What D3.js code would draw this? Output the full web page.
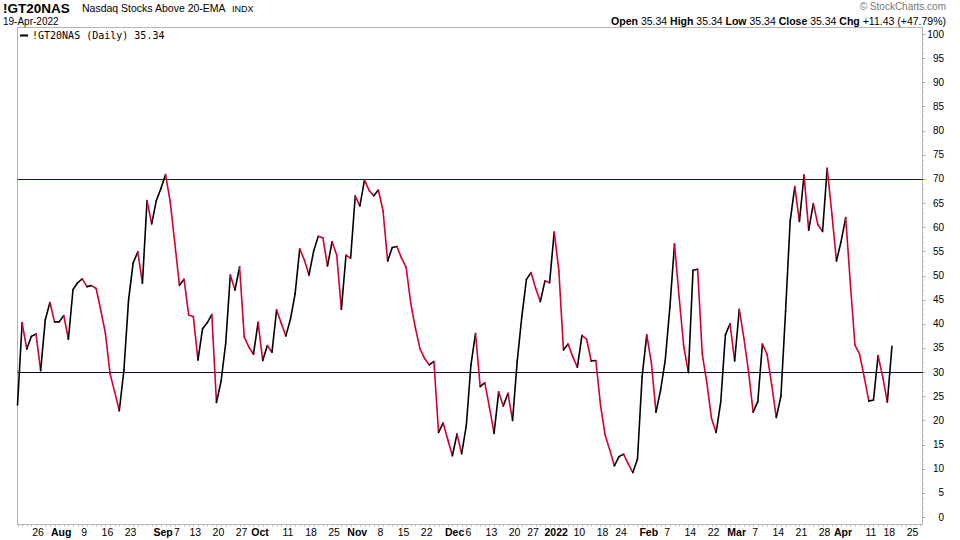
<!DOCTYPE html>
<html>
<head>
<meta charset="utf-8">
<script src="https://cdn.jsdelivr.net/npm/d3@7"></script>
<style>
  body { margin: 0; background: #fff; }
  text { font-family: "Liberation Sans", Arial, sans-serif; }
</style>
</head>
<body>
<svg id="chart" width="960" height="540"></svg>
<script>
// Trading days from 20-Jul-2021 to 19-Apr-2022 (US market holidays skipped)
const startDate = "2021-07-20";
const holidays = ["2021-09-06", "2021-11-25", "2021-12-24", "2022-01-17", "2022-02-21", "2022-04-15"];

// Daily values of !GT20NAS
const values = [
  23.2, 40.2, 34.8, 37.4, 37.9, 30.3, 40.8, 44.4, 40.4, 40.4,
  41.7, 36.8, 47.1, 48.5, 49.3, 47.7, 47.9, 47.3, 42.8, 38.0,
  29.7, 25.9, 22.0, 30.4, 44.9, 52.6, 54.9, 48.4, 65.5, 60.7,
  65.5, 68.0, 70.9, 65.3, 56.7, 48.0, 49.2, 41.8, 41.5, 32.5,
  39.0, 40.2, 41.9, 23.7, 28.1, 36.0, 50.1, 47.0, 51.8,
  37.3, 35.2, 33.7, 40.3, 32.4, 35.5, 34.1, 42.9, 40.1, 37.5,
  41.0, 46.2, 55.5, 53.2, 50.1, 55.0, 58.1, 57.8, 52.0, 57.0,
  54.2, 43.0, 54.2, 53.6, 66.5, 64.4, 69.8, 67.6, 66.5, 67.7,
  63.4, 53.0, 55.8, 56.0, 53.6, 51.7, 44.2, 39.1, 34.8, 32.8,
  31.5, 32.2, 17.5, 19.5, 16.0, 12.7, 17.2, 13.1, 18.9,
  31.5, 38.0, 27.0, 27.8, 22.7, 17.3, 25.9, 23.0, 25.6, 20.0,
  32.2, 41.5, 49.2, 50.6, 47.3, 44.6, 48.9, 48.5, 59.0, 51.1,
  34.6, 35.8, 33.2, 31.0, 37.6, 36.8, 32.3, 32.4, 23.2, 17.0,
  13.9, 10.6, 12.5, 13.0, 11.0, 9.2, 12.0, 29.1, 37.7, 31.9,
  21.7, 26.3, 32.5, 43.4, 56.5, 45.5, 35.3, 29.9, 51.1, 51.3,
  33.7, 27.7, 20.4, 17.5, 23.9, 37.7, 40.0, 32.3, 43.0, 37.0,
  30.1, 21.7, 23.9, 35.8, 33.7, 27.4, 20.6, 25.0, 42.5, 61.3,
  68.4, 61.2, 70.8, 59.4, 64.9, 60.5, 59.1, 72.2, 62.9, 53.0,
  57.0, 62.0, 48.4, 35.6, 33.7, 29.0, 24.0, 24.2, 33.4, 29.0,
  23.8, 35.34
];

// X axis labels: [date, text, bold]
const tickDates = [
  ["2021-07-26", "26", false], ["2021-08-02", "Aug", true], ["2021-08-09", "9", false],
  ["2021-08-16", "16", false], ["2021-08-23", "23", false], ["2021-09-01", "Sep", true],
  ["2021-09-07", "7", false], ["2021-09-13", "13", false], ["2021-09-20", "20", false],
  ["2021-09-27", "27", false], ["2021-10-01", "Oct", true], ["2021-10-11", "11", false],
  ["2021-10-18", "18", false], ["2021-10-25", "25", false], ["2021-11-01", "Nov", true],
  ["2021-11-08", "8", false], ["2021-11-15", "15", false], ["2021-11-22", "22", false],
  ["2021-12-01", "Dec", true], ["2021-12-06", "6", false], ["2021-12-13", "13", false],
  ["2021-12-20", "20", false], ["2021-12-27", "27", false], ["2022-01-03", "2022", true],
  ["2022-01-10", "10", false], ["2022-01-18", "18", false], ["2022-01-24", "24", false],
  ["2022-02-01", "Feb", true], ["2022-02-07", "7", false], ["2022-02-14", "14", false],
  ["2022-02-22", "22", false], ["2022-03-01", "Mar", true], ["2022-03-07", "7", false],
  ["2022-03-14", "14", false], ["2022-03-21", "21", false], ["2022-03-28", "28", false],
  ["2022-04-01", "Apr", true], ["2022-04-11", "11", false], ["2022-04-18", "18", false],
  ["2022-04-25", "25", false]
];
const yTicks = d3.range(0, 101, 5);
const refLines = [70, 30];

// build trading-day list (extended a week past the data for the axis)
const fmt = d3.utcFormat("%Y-%m-%d");
const days = [];
for (let d = new Date(startDate + "T00:00:00Z"); fmt(d) <= "2022-04-29"; d = d3.utcDay.offset(d, 1)) {
  const wd = d.getUTCDay();
  if (wd === 0 || wd === 6 || holidays.includes(fmt(d))) continue;
  days.push(fmt(d));
}
const idx = (s) => days.indexOf(s);

const svg = d3.select("#chart");
const plot = { left: 17.5, right: 922.5, top: 27.5, bottom: 524.5 };

const x = d3.scaleLinear().domain([0, 195.6]).range([plot.left, plot.right]);
const y = d3.scaleLinear().domain([0, 100]).range([517, 34]);
const crisp = (v) => Math.round(v) + 0.5;

// frame
svg.append("rect")
  .attr("x", plot.left).attr("y", plot.top)
  .attr("width", plot.right - plot.left).attr("height", plot.bottom - plot.top)
  .attr("fill", "none").attr("stroke", "#b4b4b4");

// header
svg.append("text").attr("x", 3).attr("y", 13)
  .attr("font-size", 13.5).attr("font-weight", "bold").text("!GT20NAS");
svg.append("text").attr("x", 82).attr("y", 12)
  .attr("font-size", 10.5).text("Nasdaq Stocks Above 20-EMA");
svg.append("text").attr("x", 232).attr("y", 12)
  .attr("font-size", 9).text("INDX");
svg.append("text").attr("x", 3).attr("y", 25)
  .attr("font-size", 10).text("19-Apr-2022");
svg.append("text").attr("x", 946).attr("y", 10).attr("text-anchor", "end")
  .attr("font-size", 10).attr("fill", "#777").text("© StockCharts.com");

const stats = svg.append("text").attr("x", 946).attr("y", 25)
  .attr("text-anchor", "end").attr("font-size", 10.5);
[["Open", "35.34"], ["High", "35.34"], ["Low", "35.34"], ["Close", "35.34"], ["Chg", "+11.43 (+47.79%)"]]
  .forEach(([k, v], i) => {
    stats.append("tspan").attr("font-weight", "bold").text((i ? " " : "") + k + " ");
    stats.append("tspan").text(v);
  });

// legend
svg.append("line").attr("x1", 20).attr("x2", 28).attr("y1", 35.5).attr("y2", 35.5)
  .attr("stroke", "#000").attr("stroke-width", 2);
svg.append("text").attr("x", 32).attr("y", 39)
  .attr("font-size", 10)
  .attr("style", "font-family:'DejaVu Sans Mono',monospace").text("!GT20NAS (Daily) 35.34");

// y axis labels + small ticks on the right edge
for (let t = 0; t <= 100; t += 1) {
  svg.append("line").attr("x1", plot.right).attr("x2", plot.right + (t % 5 ? 1.5 : 3))
    .attr("y1", crisp(y(t))).attr("y2", crisp(y(t))).attr("stroke", t % 5 ? "#ccc" : "#aaa");
}
yTicks.forEach((t) => {
  svg.append("text").attr("x", 944).attr("y", y(t) + 3.5).attr("text-anchor", "end")
    .attr("font-size", 10).attr("style", "font-family:'Liberation Sans Narrow','Liberation Sans',sans-serif")
    .text(t);
});

// bottom dotted tick marks
days.forEach((d, i) => {
  if (x(i) > plot.right) return;
  svg.append("line").attr("x1", crisp(x(i))).attr("x2", crisp(x(i))).attr("y1", plot.bottom).attr("y2", plot.bottom + 2)
    .attr("stroke", "#bbb");
});

// x labels: centred on their day; a month label pushed left if it would hit the next label
const labelStyle = "font-family:'Liberation Sans Narrow','Liberation Sans',sans-serif";
tickDates.forEach(([d, label, bold], i) => {
  const cx = x(idx(d)) + 2;
  const t = svg.append("text").attr("y", 536).attr("font-size", 10.5)
    .attr("font-weight", bold ? "bold" : "normal").attr("style", labelStyle).text(label);
  const next = tickDates[i + 1];
  const w = t.node().getComputedTextLength();
  if (bold && next && x(idx(next[0])) - cx < 14) {
    t.attr("x", x(idx(next[0])) + 2 - 4).attr("text-anchor", "end");
  } else {
    t.attr("x", cx - w / 2);
  }
});

// reference lines
refLines.forEach((v, i) => {
  svg.append("line").attr("x1", plot.left).attr("x2", plot.right)
    .attr("y1", crisp(y(v))).attr("y2", crisp(y(v))).attr("stroke", i ? "#00003a" : "#0000b4").attr("stroke-width", 1);
});

// price line: black when rising, red when falling
const segs = d3.pairs(values.map((v, i) => [i, v]));
svg.append("g").selectAll("line").data(segs).join("line")
  .attr("x1", (d) => x(d[0][0])).attr("y1", (d) => y(d[0][1]))
  .attr("x2", (d) => x(d[1][0])).attr("y2", (d) => y(d[1][1]))
  .attr("stroke", (d) => (d[1][1] >= d[0][1] ? "#000" : "#d40030"))
  .attr("stroke-width", 1.6).attr("stroke-linecap", "round");
</script>
</body>
</html>
